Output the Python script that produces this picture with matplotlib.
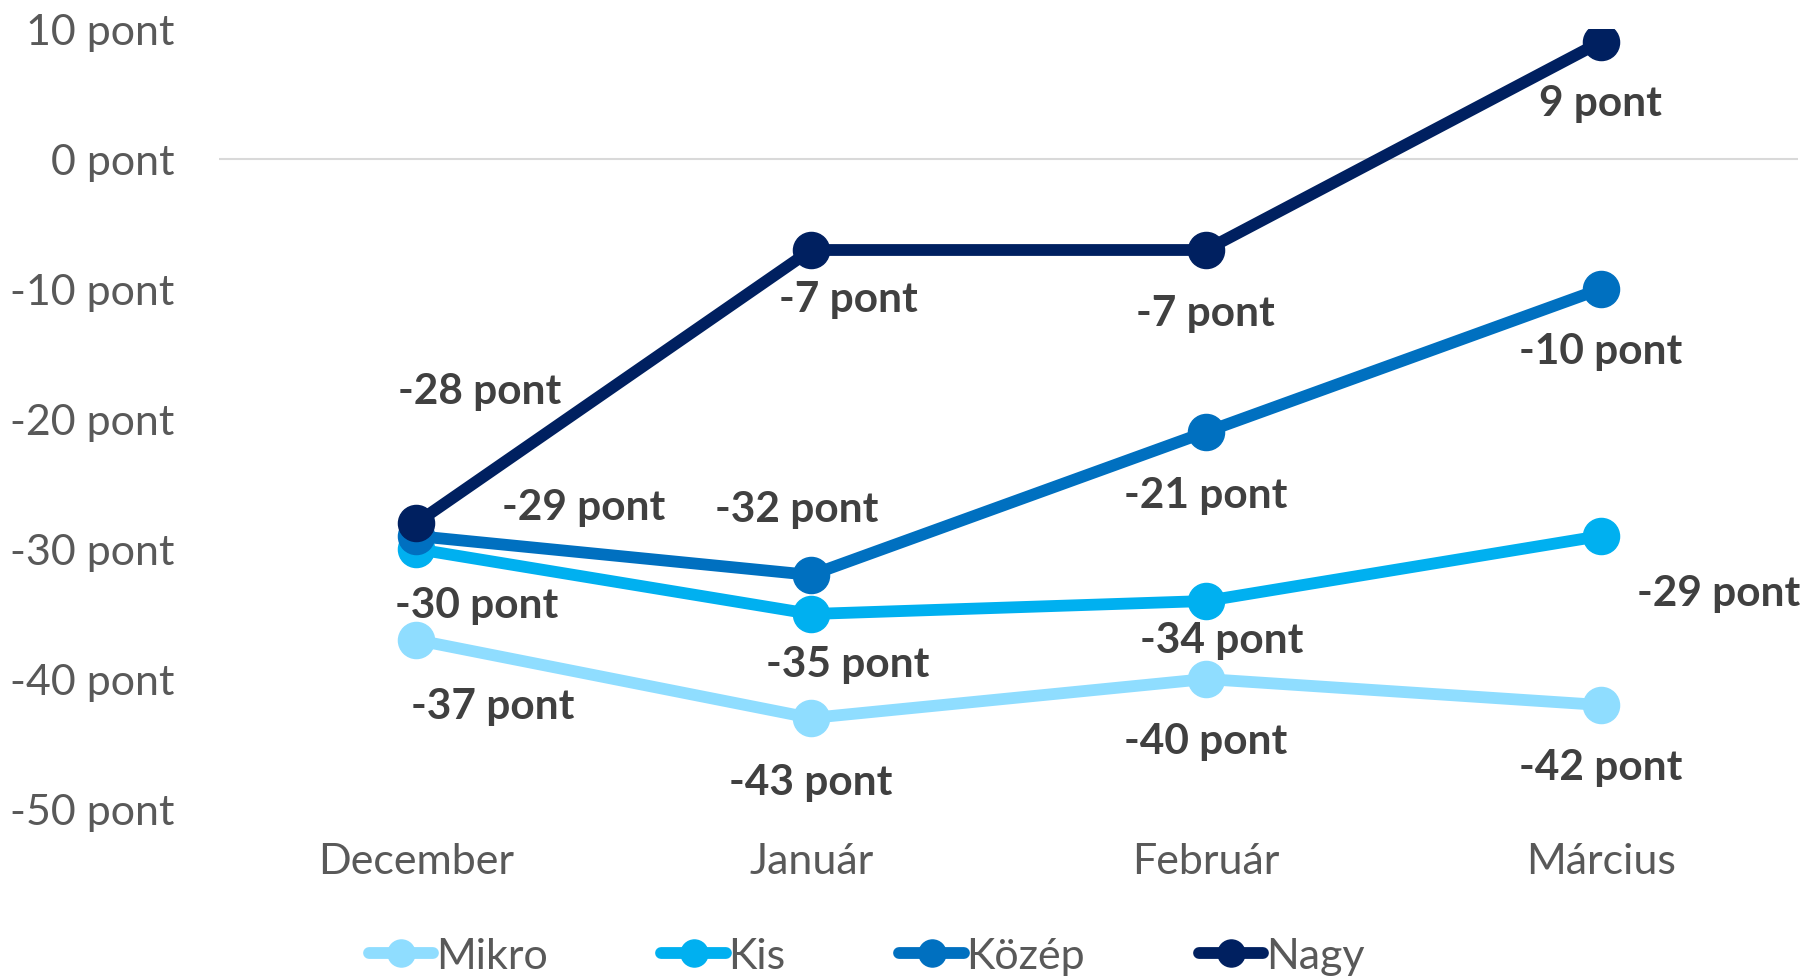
import matplotlib
matplotlib.use("Agg")
import matplotlib.pyplot as plt

plt.rcParams['font.family'] = ['Lato', 'DejaVu Sans']

months = ["December", "Január", "Február", "Március"]
series_names = ["Mikro", "Kis", "Közép", "Nagy"]
mikro = [-37, -43, -40, -42]
kis = [-30, -35, -34, -29]
kozep = [-29, -32, -21, -10]
nagy = [-28, -7, -7, 9]
yticks = [10, 0, -10, -20, -30, -40, -50]

series = [mikro, kis, kozep, nagy]
colors = ["#8FDDFF", "#00B0F0", "#0070C0", "#002060"]

# label offsets in pixels (dx, dy) relative to each point; dy positive = upward
offsets = [
    [(76, -66), (0, -64), (0, -62), (0, -62)],
    [(60, -56), (37, -50), (16, -39), (118, -57)],
    [(167, 29), (-14, 66), (0, -63), (0, -62)],
    [(63, 132), (37, -49), (0, -63), (0, -61)],
]

fig = plt.figure(figsize=(18.09, 9.78), dpi=100)
ax = fig.add_axes([219/1809, 1-810/978, (1798-219)/1809, (810-30)/978])

x = [i + 0.5 for i in range(len(months))]
ax.axhline(0, color="#D9D9D9", lw=1.5, zorder=1)

for name, vals, c, offs in zip(series_names, series, colors, offsets):
    ax.plot(x, vals, color=c, lw=8.5, marker='o', markersize=26,
            solid_capstyle='round', label=name, zorder=3)
    for xi, v, (dx, dy) in zip(x, vals, offs):
        ax.annotate(f"{v} pont", (xi, v), xytext=(dx, dy), textcoords='offset pixels',
                    ha='center', va='center', fontsize=30.5, fontweight='bold',
                    color="#404040", zorder=5)

ax.set_xlim(0, 4)
ax.set_ylim(-50, 10)
ax.set_xticks(x)
ax.set_xticklabels(months)
ax.set_yticks(yticks)
ax.set_yticklabels([f"{t} pont" for t in yticks])
ax.tick_params(axis='both', length=0, labelsize=31, labelcolor="#595959")
ax.tick_params(axis='y', pad=32)
ax.tick_params(axis='x', pad=24)
for s in ax.spines.values():
    s.set_visible(False)

leg = fig.legend(loc='center', bbox_to_anchor=(0.479, 0.021), ncol=4, frameon=False,
                 fontsize=31, handlelength=1.5, handletextpad=0.05, columnspacing=2.65,
                 markerscale=0.75, labelcolor="#595959")
for h in leg.get_lines():
    h.set_linewidth(8.5)

fig.savefig("out.png", dpi=100)
